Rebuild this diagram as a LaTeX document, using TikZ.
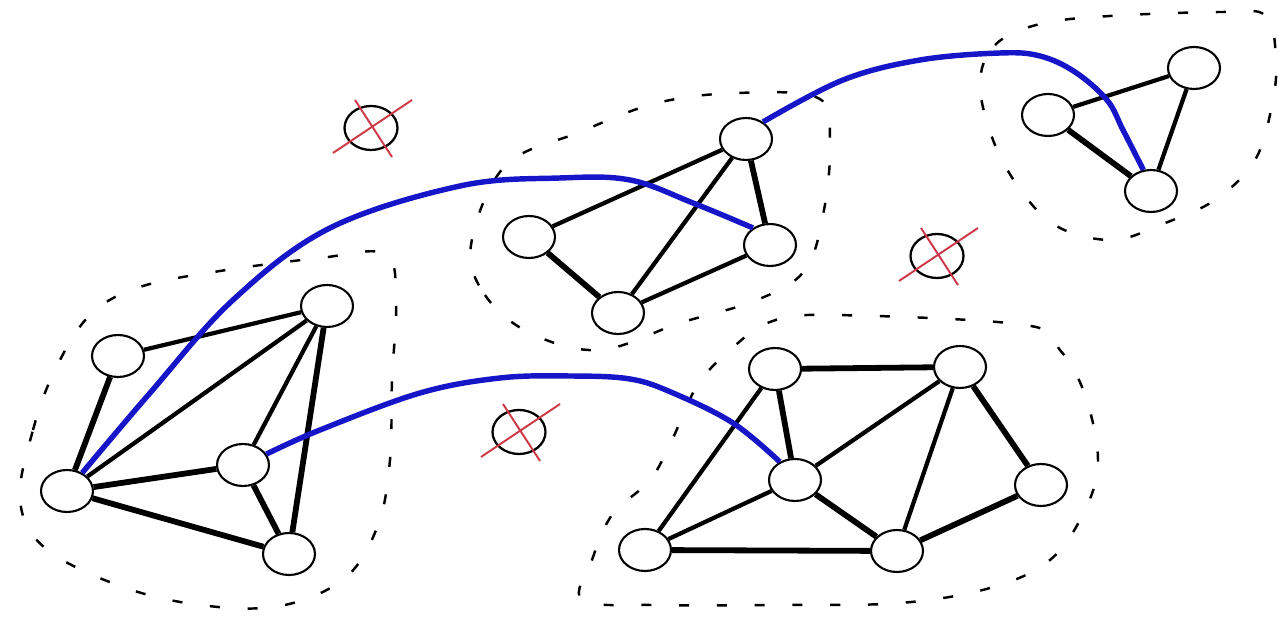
\documentclass[tikz,border=0pt]{standalone}
\usetikzlibrary{shapes.geometric}
\definecolor{curveblue}{RGB}{22,22,200}
\definecolor{crossred}{RGB}{205,55,70}
\begin{document}
\begin{tikzpicture}[x=0.02cm,y=-0.02cm,
  vtx/.style={ellipse,draw,line width=1.2pt,fill=white,inner sep=0pt,minimum width=1.04cm,minimum height=0.84cm},
  xell/.style={ellipse,draw,line width=1.3pt,inner sep=0pt,minimum width=1.06cm,minimum height=0.88cm},
  thin/.style={line width=2.4pt},
  thick/.style={line width=3.3pt},
  blob/.style={line width=1.4pt,dash pattern=on 5.7pt off 15.8pt},
  link/.style={curveblue,line width=3.1pt},
  redx/.style={crossred,line width=1.1pt}]
\useasboundingbox (0,0) rectangle (1279,617);
% dashed cluster outlines
\draw[blob] plot[smooth cycle,tension=0.6] coordinates {(20,500) (33,430) (55,370) (90,315) (140,287) (220,271) (320,258) (385,254) (396,300) (392,380) (390,460) (378,525) (345,578) (280,606) (200,605) (120,586) (45,548)};
\draw[blob] plot[smooth cycle,tension=0.6] coordinates {(471,245) (485,295) (530,333) (600,350) (680,323) (757,300) (805,270) (824,210) (830,140) (818,98) (737,93) (657,103) (580,132) (505,166)};
\draw[blob] plot[smooth cycle,tension=0.6] coordinates {(980,85) (995,45) (1040,24) (1110,16) (1223,12) (1266,16) (1276,60) (1272,105) (1255,160) (1215,200) (1160,225) (1113,240) (1060,228) (1025,196) (995,145)};
\draw[blob] plot[smooth cycle,tension=0.6] coordinates {(582,600) (592,560) (612,515) (650,480) (672,440) (697,386) (728,352) (770,322) (832,315) (1025,325) (1060,350) (1085,395) (1098,460) (1085,510) (1050,560) (990,588) (900,603) (780,605) (650,605)};
% nodes
\node[vtx] (A1) at (118,356) {};
\node[vtx] (A2) at (327,306) {};
\node[vtx] (A3) at (67,491) {};
\node[vtx] (A4) at (243,465) {};
\node[vtx] (A5) at (289,554) {};
\node[vtx] (B1) at (746,139) {};
\node[vtx] (B2) at (529,237) {};
\node[vtx] (B3) at (770,245) {};
\node[vtx] (B4) at (618,313) {};
\node[vtx] (C1) at (1194,68) {};
\node[vtx] (C2) at (1048,115) {};
\node[vtx] (C3) at (1151,191) {};
\node[vtx] (D1) at (775,369) {};
\node[vtx] (D2) at (960,367) {};
\node[vtx] (D3) at (795,480) {};
\node[vtx] (D4) at (1041,485) {};
\node[vtx] (D5) at (645,550) {};
\node[vtx] (D6) at (897,551) {};
% edges
\draw[thin] (A1) -- (A2);
\draw[thick] (A1) -- (A3);
\draw[thin] (A2) -- (A3);
\draw[thin] (A2) -- (A4);
\draw[thick] (A2) -- (A5);
\draw[thick] (A3) -- (A4);
\draw[thick] (A3) -- (A5);
\draw[thick] (A4) -- (A5);
\draw[thin] (B1) -- (B2);
\draw[thin] (B1) -- (B4);
\draw[thick] (B1) -- (B3);
\draw[thick] (B2) -- (B4);
\draw[thin] (B4) -- (B3);
\draw[thin] (C2) -- (C1);
\draw[thin] (C1) -- (C3);
\draw[thick] (C2) -- (C3);
\draw[thick] (D1) -- (D2);
\draw[thick] (D1) -- (D3);
\draw[thin] (D1) -- (D5);
\draw[thin] (D2) -- (D3);
\draw[thin] (D2) -- (D6);
\draw[thick] (D2) -- (D4);
\draw[thin] (D3) -- (D5);
\draw[thick] (D3) -- (D6);
\draw[thick] (D4) -- (D6);
\draw[thick] (D5) -- (D6);
% blue links
\draw[link] plot[smooth,tension=0.6] coordinates {(A3.50) (150,393) (233,300) (330,228) (460,186) (560,178) (630,180) (693,203) (B3.135)};
\draw[link] plot[smooth,tension=0.6] coordinates {(A4.25) (320,430) (420,393) (500,378) (570,376) (630,379) (673,393) (733,423) (D3.130)};
\draw[link] plot[smooth,tension=0.6] coordinates {(B1.45) (843,80) (920,60) (1000,53) (1040,56) (1075,72) (1107,100) (1123,130) (C3.110)};
% crossed-out ellipses
\node[xell] (X1) at (371,128) {};
\node[xell] (X2) at (519,432) {};
\node[xell] (X3) at (937,256) {};
\foreach \n in {X1,X2,X3}{
  \draw[redx] (\n) ++(-38,25) -- ++(79,-53);
  \draw[redx] (\n) ++(-16,-28) -- ++(37,57);
}
\end{tikzpicture}
\end{document}
